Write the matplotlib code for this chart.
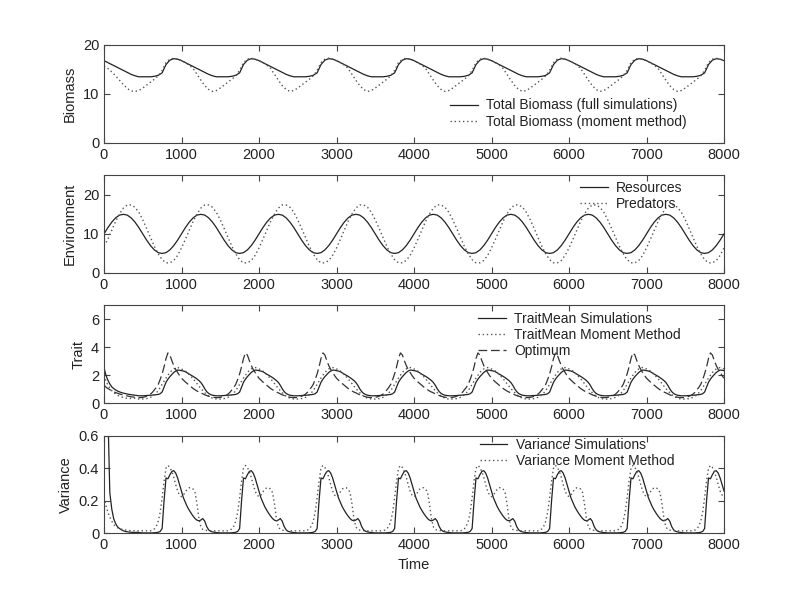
import numpy as np
import matplotlib
matplotlib.use('Agg')
import matplotlib.pyplot as plt

plt.rcParams.update({
    "font.family": ["Liberation Sans", "DejaVu Sans"],
    "font.size": 10,
    "xtick.labelsize": 10.5,
    "ytick.labelsize": 10.5,
    "axes.labelsize": 10.5,
    "text.color": "#222222",
    "axes.edgecolor": "#444444",
    "axes.labelcolor": "#222222",
    "xtick.color": "#444444",
    "ytick.color": "#444444",
    "xtick.labelcolor": "#222222",
    "ytick.labelcolor": "#222222",
})

N_CYCLES = 8
PERIOD = 1000

# one cycle (t mod 1000), step 50
biomass_sim_cycle = [16.8, 16.4, 16.0, 15.6, 15.2, 14.8, 14.4, 14.0, 13.7, 13.5,
                     13.5, 13.5, 13.5, 13.6, 13.8, 14.3, 16.0, 16.9, 17.2, 17.1]
biomass_mom_cycle = [16.8, 16.4, 15.9, 15.2, 14.0, 12.8, 11.7, 10.9, 10.5, 10.7,
                     11.2, 11.8, 12.4, 13.0, 13.7, 14.8, 16.4, 17.1, 17.3, 17.1]
biomass_mom_start = [15.7, 15.2, 14.5, 13.7, 12.8, 11.9, 11.1, 10.6, 10.5]

resources_cycle = [10.0, 11.6, 13.0, 14.1, 14.8, 15.0, 14.8, 14.1, 13.0, 11.6,
                   10.0, 8.4, 7.0, 5.9, 5.2, 5.0, 5.2, 5.9, 7.0, 8.4]
predators_cycle = [6.4, 8.6, 10.9, 13.2, 15.1, 16.6, 17.4, 17.4, 16.8, 15.5,
                   13.6, 11.4, 9.1, 6.8, 4.9, 3.4, 2.6, 2.6, 3.2, 4.5]
predators_start = [6.9]

# step 25
trait_sim_cycle = [2.33, 2.30, 2.25, 2.17, 2.08, 2.00, 1.92, 1.83, 1.73, 1.62,
                   1.48, 1.28, 1.03, 0.83, 0.70, 0.62, 0.57, 0.55, 0.53, 0.53,
                   0.53, 0.54, 0.55, 0.56, 0.57, 0.58, 0.60, 0.61, 0.63, 0.68,
                   0.80, 1.15, 1.50, 1.72, 1.90, 2.05, 2.20, 2.30, 2.37, 2.36]
trait_sim_start = [2.55, 2.00, 1.65, 1.38, 1.17, 1.05, 0.95, 0.87, 0.81, 0.76,
                   0.72, 0.69, 0.66, 0.63, 0.61, 0.59, 0.57]
trait_mom_cycle = [2.45, 2.38, 2.30, 2.18, 2.05, 1.90, 1.75, 1.58, 1.40, 1.22,
                   1.05, 0.90, 0.75, 0.62, 0.50, 0.42, 0.36, 0.32, 0.30, 0.29,
                   0.30, 0.31, 0.33, 0.37, 0.42, 0.50, 0.60, 0.74, 0.90, 1.12,
                   1.35, 1.58, 1.80, 2.00, 2.20, 2.34, 2.45, 2.52, 2.55, 2.52]
trait_mom_start = [2.00, 1.60, 1.30, 1.08, 0.90, 0.76, 0.65, 0.57, 0.50, 0.45,
                   0.40, 0.37, 0.35, 0.34, 0.34, 0.35, 0.36]
optimum_cycle = [1.79, 1.65, 1.52, 1.40, 1.27, 1.16, 1.05, 0.96, 0.87, 0.80,
                 0.74, 0.67, 0.60, 0.55, 0.50, 0.46, 0.43, 0.41, 0.40, 0.40,
                 0.42, 0.45, 0.50, 0.56, 0.65, 0.78, 0.95, 1.13, 1.35, 1.70,
                 2.10, 2.60, 3.20, 3.60, 3.45, 3.05, 2.70, 2.42, 2.20, 1.98]
optimum_start = [1.30, 1.15, 1.05, 0.97, 0.88, 0.82, 0.76, 0.71, 0.66, 0.62,
                 0.58, 0.55, 0.52, 0.49, 0.46, 0.44, 0.43]

var_sim_cycle = [0.260, 0.218, 0.190, 0.163, 0.142, 0.123, 0.106, 0.091, 0.081, 0.077,
                 0.082, 0.091, 0.075, 0.042, 0.022, 0.013, 0.009, 0.007, 0.005, 0.004,
                 0.003, 0.003, 0.003, 0.003, 0.003, 0.003, 0.004, 0.005, 0.007, 0.012,
                 0.030, 0.200, 0.340, 0.335, 0.360, 0.380, 0.385, 0.370, 0.340, 0.300]
var_sim_start = [0.90, 0.85, 0.75, 0.25, 0.15, 0.09, 0.06, 0.04, 0.03, 0.022,
                 0.016, 0.012, 0.010, 0.008, 0.007, 0.006, 0.005]
var_mom_cycle = [0.225, 0.235, 0.255, 0.272, 0.280, 0.280, 0.272, 0.250, 0.180, 0.090,
                 0.040, 0.024, 0.020, 0.018, 0.017, 0.016, 0.016, 0.016, 0.016, 0.016,
                 0.016, 0.016, 0.016, 0.016, 0.016, 0.020, 0.028, 0.045, 0.075, 0.130,
                 0.220, 0.320, 0.400, 0.417, 0.405, 0.380, 0.345, 0.300, 0.260, 0.235]
var_mom_start = [0.22, 0.17, 0.13, 0.10, 0.075, 0.055, 0.042, 0.035, 0.030, 0.026,
                 0.023, 0.021, 0.020]

x_ticks = [0, 1000, 2000, 3000, 4000, 5000, 6000, 7000, 8000]


def build(cycle, start=()):
    y = np.concatenate([np.tile(cycle, N_CYCLES), cycle[:1]]).astype(float)
    y[:len(start)] = start
    return y


def time_axis(cycle):
    step = PERIOD // len(cycle)
    return np.arange(0, N_CYCLES * PERIOD + 1, step)


def style(ax, ylim, yticks, ylabel):
    ax.set_xlim(0, 8000)
    ax.set_ylim(*ylim)
    ax.set_xticks(x_ticks)
    ax.set_yticks(yticks)
    ax.set_ylabel(ylabel)
    ax.tick_params(direction='in', top=True, right=True, length=4, width=0.8)


def legend(ax, x, y):
    ax.legend(loc='center left', bbox_to_anchor=(x, y), frameon=False,
              borderpad=0, borderaxespad=0, labelspacing=0.15,
              handlelength=2.0, handletextpad=0.6)


fig = plt.figure(figsize=(8, 6), dpi=100)
L, W, H = 0.13, 0.775, 0.163
ax1 = fig.add_axes([L, 0.762, W, H])
ax2 = fig.add_axes([L, 0.545, W, H])
ax3 = fig.add_axes([L, 0.328, W, H])
ax4 = fig.add_axes([L, 0.111, W, H])

sol = dict(color='#222222', lw=0.9, ls='-')
dot = dict(color='#555555', lw=1.0, ls=(0, (1, 2)))
dash = dict(color='#333333', lw=0.9, ls=(0, (7, 3)))

t = time_axis(biomass_sim_cycle)
ax1.plot(t, build(biomass_sim_cycle), label='Total Biomass (full simulations)', **sol)
ax1.plot(t, build(biomass_mom_cycle, biomass_mom_start), label='Total Biomass (moment method)', **dot)
style(ax1, (0, 20), [0, 10, 20], 'Biomass')
legend(ax1, 0.558, 0.30)

t = time_axis(resources_cycle)
ax2.plot(t, build(resources_cycle), label='Resources', **sol)
ax2.plot(t, build(predators_cycle, predators_start), label='Predators', **dot)
style(ax2, (0, 25), [0, 10, 20], 'Environment')
legend(ax2, 0.768, 0.79)

t = time_axis(trait_sim_cycle)
ax3.plot(t, build(trait_sim_cycle, trait_sim_start), label='TraitMean Simulations', **sol)
ax3.plot(t, build(trait_mom_cycle, trait_mom_start), label='TraitMean Moment Method', **dot)
ax3.plot(t, build(optimum_cycle, optimum_start), label='Optimum', **dash)
style(ax3, (0, 7), [0, 2, 4, 6], 'Trait')
legend(ax3, 0.603, 0.695)

t = time_axis(var_sim_cycle)
ax4.plot(t, build(var_sim_cycle, var_sim_start), label='Variance Simulations', **sol)
ax4.plot(t, build(var_mom_cycle, var_mom_start), label='Variance Moment Method', **dot)
style(ax4, (0, 0.6), [0, 0.2, 0.4, 0.6], 'Variance')
ax4.set_yticklabels(['0', '0.2', '0.4', '0.6'])
ax4.set_xlabel('Time')
legend(ax4, 0.606, 0.825)

fig.savefig('out.png', dpi=100, facecolor='white')
